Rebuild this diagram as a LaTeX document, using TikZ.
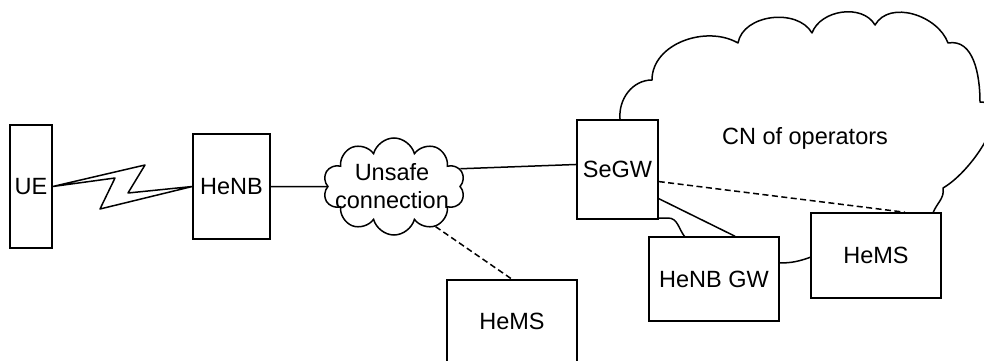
\documentclass[tikz,border=0pt]{standalone}
\usepackage{fontspec}
\setmainfont{Liberation Sans}
\usetikzlibrary{shapes.symbols,calc}
\begin{document}
\begin{tikzpicture}[x=1pt,y=1pt,
  every node/.style={font=\fontsize{23.5}{28}\selectfont},
  conn/.style={line width=1.5pt, line join=round},
  dashconn/.style={line width=1.5pt, dash pattern=on 6pt off 3.5pt},
  box/.style={draw, line width=1.5pt, fill=white, inner sep=0pt},
  cloudshape/.style={cloud, cloud puffs=10, draw, line width=1.5pt, aspect=1.46, inner sep=0pt}
]
\useasboundingbox (0,0) rectangle (984,360);
\clip (0,0) rectangle (984,360);

% core network cloud (drawn first, boxes cover its hidden parts)
\draw[conn] (630,200) -- (620,241)
  to[out=95,in=180] (652,280)
  to[out=90,in=150] (738,317)
  to[out=80,in=120] (812,327)
  to[out=70,in=120] (875,335)
  to[out=60,in=110] (948,317)
  to[out=10,in=90] (980,258)
  to[out=0,in=30] (943,172)
  to[out=280,in=70] (933,147)
  to[out=250,in=-10] (811,103)
  to[out=200,in=0] (779,97)
  to[out=180,in=-60] (685,123)
  to[out=130,in=0] (668,142)
  -- (658,142) -- cycle;
\node (cntext) at (805,222) {CN of operators};

% nodes
\node[box, minimum width=42pt, minimum height=123pt] (ue) at (31,173.5) {UE};
\node[box, minimum width=77pt, minimum height=105pt] (henb) at (231.5,173.5) {HeNB};
\node[cloudshape, minimum width=142pt, minimum height=97pt] (unsafe) at (394,173.5) {};
\node[align=center] (unsafetext) at (392,174) {Unsafe\\connection};
\node[box, minimum width=81pt, minimum height=99pt] (segw) at (617.5,190.5) {SeGW};
\node[box, minimum width=130pt, minimum height=84pt] (henbgw) at (714,81) {HeNB GW};
\node[box, minimum width=130pt, minimum height=85pt] (hems2) at (876,104.5) {HeMS};
\node[box, minimum width=130pt, minimum height=82pt] (hems1) at (512,39) {HeMS};

% connectors
\draw[conn] (ue.east) -- (145,195) -- (128,167) -- (henb.west) -- (100,151) -- (115,182) -- cycle;
\draw[conn] (henb.east) -- (unsafe.west);
\draw[conn] (unsafe.15) -- ($(segw.north west)!0.45!(segw.south west)$);
\draw[dashconn] (unsafe.-44) -- (hems1.north);
\draw[dashconn] ($(segw.north east)!0.62!(segw.south east)$) -- ($(hems2.north west)!0.72!(hems2.north east)$);
\draw[conn] ($(segw.north east)!0.79!(segw.south east)$) -- ($(henbgw.north west)!0.66!(henbgw.north east)$);
\end{tikzpicture}
\end{document}
